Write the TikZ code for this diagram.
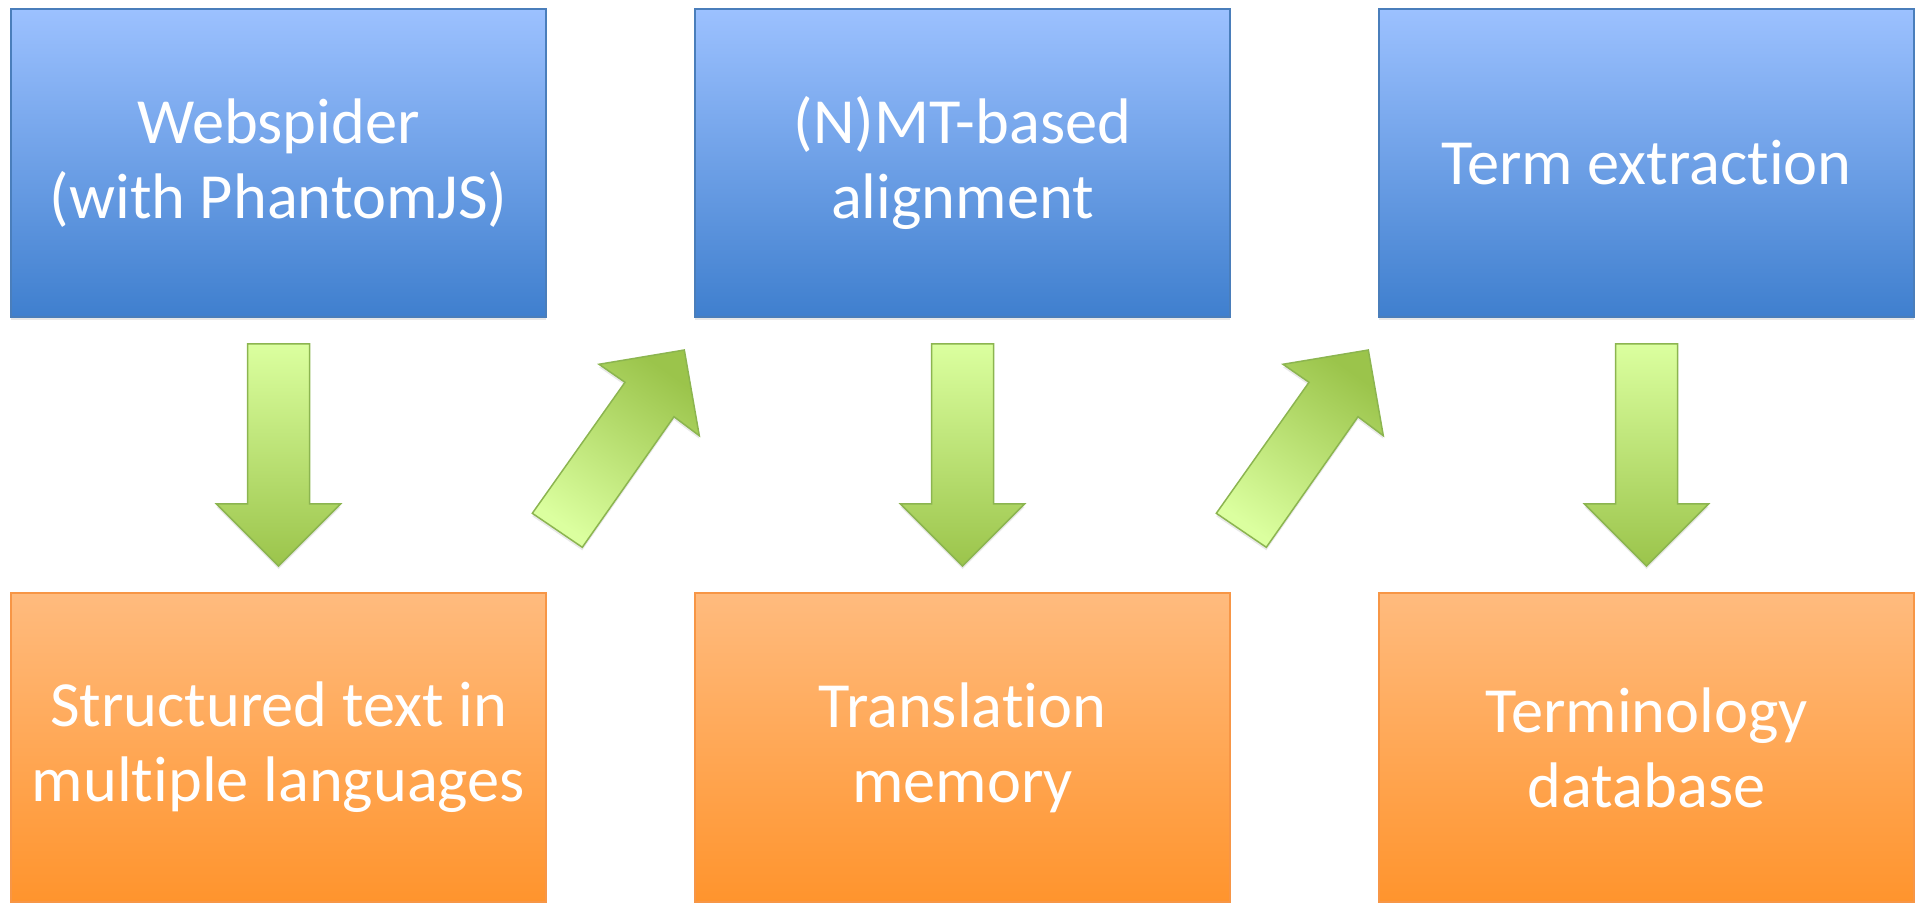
\documentclass[tikz,border=0pt]{standalone}
\usepackage{fontspec}
\setmainfont{Carlito}[Ligatures=NoCommon]
\usetikzlibrary{shadows}
\definecolor{bluetop}{HTML}{9CC1FF}
\definecolor{bluebot}{HTML}{3F7FCE}
\definecolor{blueedge}{HTML}{4A7EBB}
\definecolor{orangetop}{HTML}{FFBB7E}
\definecolor{orangebot}{HTML}{FF942D}
\definecolor{orangeedge}{HTML}{F79646}
\definecolor{greenlight}{HTML}{DBFF9F}
\definecolor{greendark}{HTML}{9BC44B}
\definecolor{greenedge}{HTML}{8CB550}
\begin{document}
\begin{tikzpicture}[x=0.5pt,y=-0.5pt,
  box/.style={line width=1pt, minimum width=267.5pt, inner sep=0pt,
    text=white, align=center, font=\fontsize{32.2}{37.6}\selectfont,
    drop shadow={opacity=0.18, shadow xshift=0pt, shadow yshift=-1.5pt}},
  topbox/.style={box, draw=blueedge, top color=bluetop, bottom color=bluebot, minimum height=154pt},
  botbox/.style={box, draw=orangeedge, top color=orangetop, bottom color=orangebot, minimum height=154.5pt},
  downarrow/.style={draw=greenedge, line width=0.75pt, line join=miter, top color=greenlight, bottom color=greendark,
    drop shadow={opacity=0.18, shadow xshift=0pt, shadow yshift=-1.5pt}},
  diagarrow/.style={draw=greenedge, line width=0.75pt, line join=miter, top color=greendark, bottom color=greenlight, shading angle=-35,
    drop shadow={opacity=0.18, shadow xshift=0pt, shadow yshift=-1.5pt}}]
\useasboundingbox (0,0) rectangle (1923,903);
% boxes
\node[topbox] (b1) at (278.5,163) {Webspider\\(with PhantomJS)};
\node[topbox] (b2) at (962.5,163) {(N)MT-based\\alignment};
\node[topbox] (b3) at (1646.5,163) {Term extraction};
\node[botbox] (o1) at (278.5,747.5) {Structured text in\\multiple languages};
\node[botbox] (o2) at (962.5,747.5) {Translation\\memory};
\node[botbox] (o3) at (1646.5,747.5) {Terminology\\database};
% down arrows
\foreach \cx in {278.5,962.5,1646.5}{
  \path[downarrow] ({\cx-31},344) -- ({\cx+31},344) -- ({\cx+31},504) -- ({\cx+62},504)
    -- (\cx,566) -- ({\cx-62},504) -- ({\cx-31},504) -- cycle;
}
% diagonal arrows
\foreach \dx in {0,684}{
  \begin{scope}[shift={(\dx,0)}]
  \path[diagarrow] (532.3,513.3) -- (582.3,547.3) -- (674,416.7) -- (699.3,435.7)
    -- (684.3,350) -- (599,364.3) -- (625,382.3) -- cycle;
  \end{scope}
}
\end{tikzpicture}
\end{document}
